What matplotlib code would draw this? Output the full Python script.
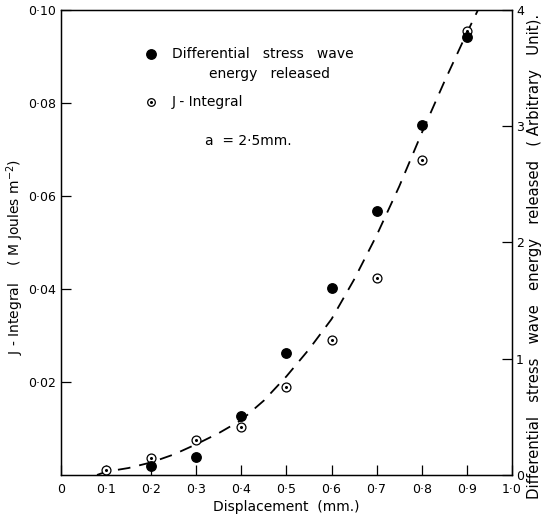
import matplotlib
matplotlib.use("Agg")
import matplotlib.pyplot as plt
import numpy as np

plt.rcParams['font.family'] = ['DejaVu Sans']

# Data
disp = [0.1, 0.2, 0.3, 0.4, 0.5, 0.6, 0.7, 0.8, 0.9]
j_integral = [0.0011, 0.0036, 0.0075, 0.0104, 0.0189, 0.0290, 0.0424, 0.0677, 0.0955]
stress_disp = [0.2, 0.3, 0.4, 0.5, 0.6, 0.7, 0.8, 0.9]
stress_energy = [0.08, 0.156, 0.51, 1.05, 1.61, 2.27, 3.01, 3.77]  # arbitrary units
curve_x = [0.08, 0.1, 0.15, 0.2, 0.25, 0.3, 0.35, 0.4, 0.45, 0.5, 0.55, 0.6, 0.65, 0.7, 0.75, 0.8, 0.85, 0.9, 0.925]
curve_y = [0.0, 0.0007, 0.0015, 0.0027, 0.0044, 0.0066, 0.0090, 0.0118, 0.0160, 0.0212, 0.0270, 0.0335, 0.0420, 0.0515, 0.0620, 0.0735, 0.0845, 0.0950, 0.1000]

xticks = [0, 0.1, 0.2, 0.3, 0.4, 0.5, 0.6, 0.7, 0.8, 0.9, 1.0]
xticklabels = ['0', '0·1', '0·2', '0·3', '0·4', '0·5', '0·6', '0·7', '0·8', '0·9', '1·0']
yticks = [0.02, 0.04, 0.06, 0.08, 0.10]
yticklabels = ['0·02', '0·04', '0·06', '0·08', '0·10']
rticks = [0, 1, 2, 3, 4]
rticklabels = ['0', '1', '2', '3', '4']

fig = plt.figure(figsize=(5.44, 5.16), dpi=100)
ax = fig.add_axes([0.112, 0.0795, 0.829, 0.9015])
ax.set_xlim(0, 1.0)
ax.set_ylim(0, 0.10)

ax.plot(curve_x, curve_y, color='black', lw=1.3, dashes=(7, 5))
ax.plot(disp, j_integral, linestyle='none', marker='o', ms=6.4, mfc='white',
        mec='black', mew=0.9, zorder=3)
ax.plot(disp, j_integral, linestyle='none', marker='o', ms=1.2, color='black', zorder=4)

ax.set_xticks(xticks)
ax.set_xticklabels(xticklabels)
ax.set_yticks(yticks)
ax.set_yticklabels(yticklabels)
ax.tick_params(direction='in', length=7, width=0.9, labelsize=9, colors='black')
ax.tick_params(axis='x', pad=6)
ax.set_xlabel('Displacement  (mm.)', fontsize=10, labelpad=3)
ax.set_ylabel('J - Integral    ( M Joules m$^{-2}$)', fontsize=10)
ax.yaxis.set_label_coords(-0.078, 0.469)
for s in ax.spines.values():
    s.set_linewidth(1.0)

ax2 = ax.twinx()
ax2.set_ylim(0, 4)
ax2.plot(stress_disp, stress_energy, linestyle='none', marker='o', ms=6.8,
         color='black', zorder=3)
ax2.set_yticks(rticks)
ax2.set_yticklabels(rticklabels)
ax2.tick_params(direction='in', length=7, width=0.9, labelsize=9, pad=3)
fig.text(535 / 544, 1 - 256 / 516,
         'Differential   stress   wave   energy   released   ( Arbitrary   Unit).',
         fontsize=10.7, rotation=90, ha='center', va='center')

# In-plot legend as text
ax.plot([0.199], [0.0904], marker='o', ms=6.8, color='black', linestyle='none')
ax.text(0.246, 0.0904, 'Differential   stress   wave', fontsize=10, va='center', ha='left')
ax.text(0.463, 0.0862, 'energy   released', fontsize=10, va='center', ha='center')
ax.plot([0.199], [0.0802], marker='o', ms=5.5, mfc='white', mec='black', mew=0.9, linestyle='none')
ax.plot([0.199], [0.0802], marker='o', ms=1.2, color='black', linestyle='none')
ax.text(0.246, 0.0802, 'J - Integral', fontsize=10, va='center', ha='left')
ax.text(0.319, 0.0718, 'a  = 2·5mm.', fontsize=10, va='center', ha='left')

fig.savefig('out.png', dpi=100)
